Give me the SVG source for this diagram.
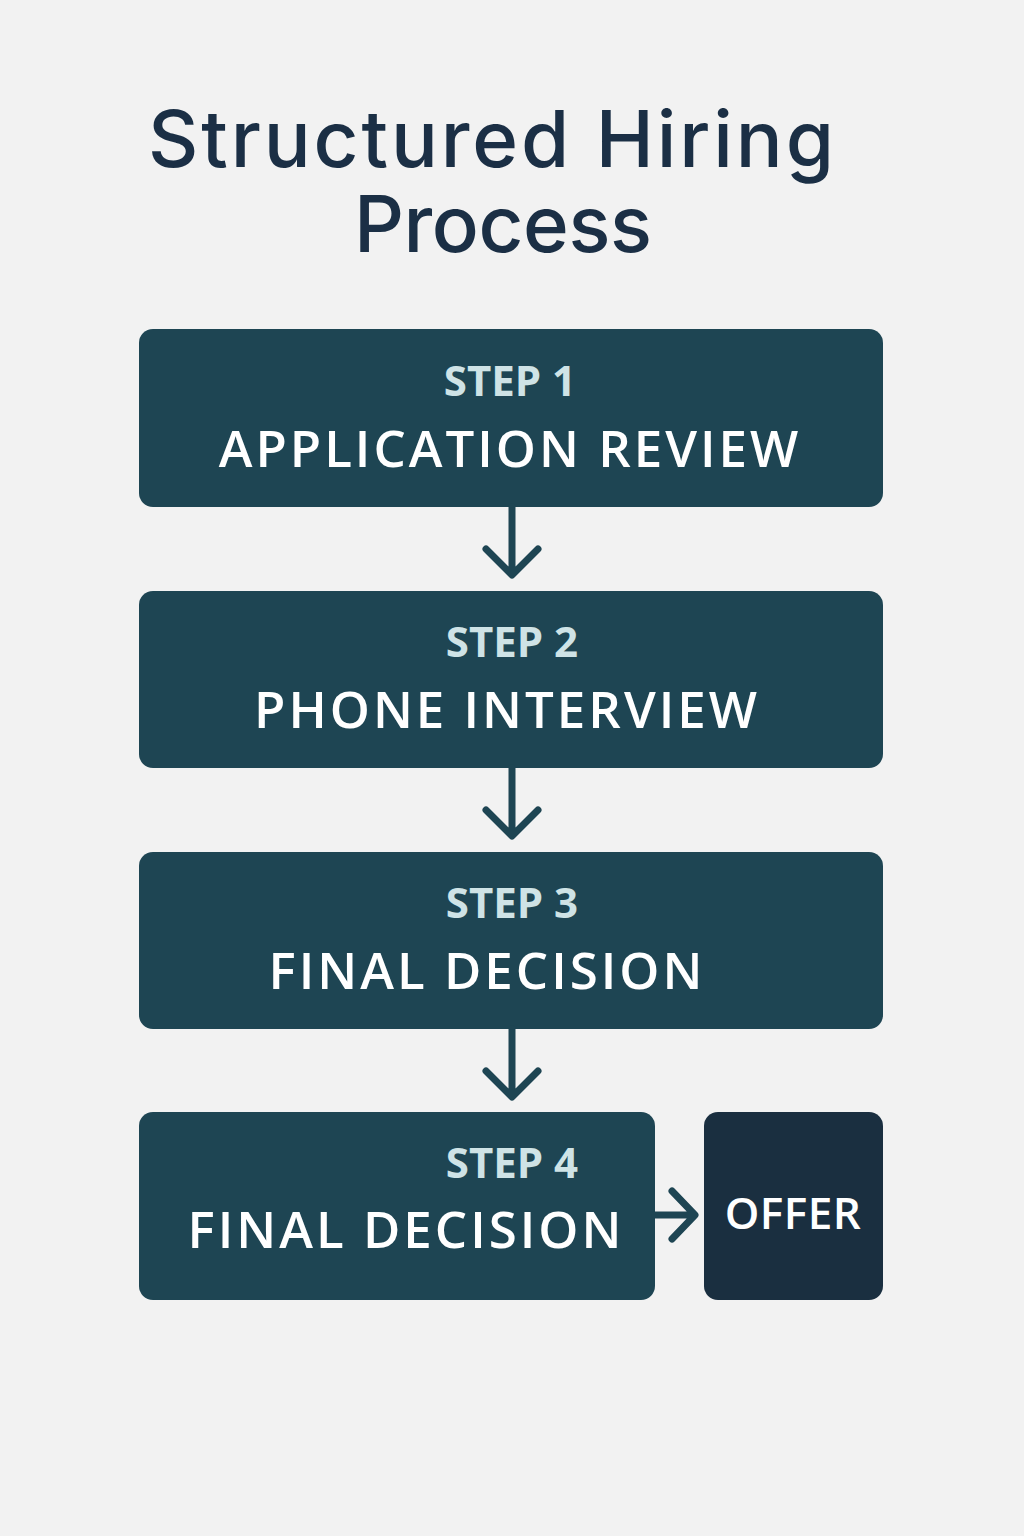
<svg xmlns="http://www.w3.org/2000/svg" width="1024" height="1536" viewBox="0 0 1024 1536">
<style>
.box{fill:#1e4553}
.step{font-family:"Open Sans","Liberation Sans",sans-serif;font-weight:bold;font-size:42px;fill:#cfe3e6;text-anchor:middle}
.lbl{font-family:"Open Sans","Liberation Sans",sans-serif;font-weight:600;font-size:51px;fill:#ffffff;text-anchor:middle;letter-spacing:3px}
.title{font-family:"Inter","Noto Sans",sans-serif;font-weight:500;font-size:78px;fill:#1b2f45;text-anchor:middle}
.con{stroke:#1e4553;stroke-width:7;fill:none;stroke-linecap:round;stroke-linejoin:round}
</style>
<rect width="1024" height="1536" fill="#f2f2f2"/>
<text class="title" x="491" y="167" textLength="686" lengthAdjust="spacing">Structured Hiring</text>
<text class="title" x="503" y="252" textLength="298" lengthAdjust="spacing">Process</text>
<g id="n1"><rect class="box" x="139" y="329" width="744" height="178" rx="14"/><text class="step" x="510" y="396">STEP 1</text><text class="lbl" x="510" y="467">APPLICATION REVIEW</text></g>
<g id="n2"><rect class="box" x="139" y="591" width="744" height="177" rx="14"/><text class="step" x="512" y="657">STEP 2</text><text class="lbl" x="507" y="728">PHONE INTERVIEW</text></g>
<g id="n3"><rect class="box" x="139" y="852" width="744" height="177" rx="14"/><text class="step" x="512" y="918">STEP 3</text><text class="lbl" x="487" y="989">FINAL DECISION</text></g>
<g id="n4"><rect class="box" x="139" y="1112" width="516" height="188" rx="14"/><text class="step" x="512" y="1178">STEP 4</text><text class="lbl" x="406" y="1248">FINAL DECISION</text></g>
<g id="n5"><rect x="704" y="1112" width="179" height="188" rx="14" fill="#1a2f40"/><text class="lbl" x="793" y="1229" style="font-size:44px;letter-spacing:0.5px">OFFER</text></g>
<g id="connectors">
<path class="con" d="M512 507V574M486 549L512 575L538 549"/>
<path class="con" d="M512 768V835M486 810L512 836L538 810"/>
<path class="con" d="M512 1029V1096M486 1071L512 1097L538 1071"/>
<path class="con" d="M655 1215H694M672 1191L695 1215L672 1239"/>
</g>
</svg>
